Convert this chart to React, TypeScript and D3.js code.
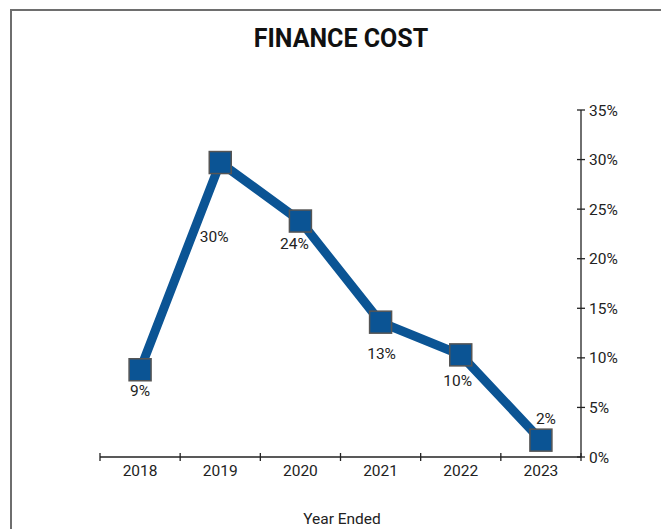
import React from "react";
import * as d3 from "d3";

const years = ["2018", "2019", "2020", "2021", "2022", "2023"];
const values = [8.8, 29.7, 23.8, 13.6, 10.3, 1.7];
const valueLabels = ["9%", "30%", "24%", "13%", "10%", "2%"];
const labelDx = [0, -6, -6, 1, -3, 5];
const labelDy = [26, 79, 28, 37, 31, -16];
const yTicks = [0, 5, 10, 15, 20, 25, 30, 35];

const W = 661;
const H = 529;
const TITLE_FONT = "Roboto, 'DejaVu Sans', sans-serif";
const FONT = "'Liberation Sans Narrow', Roboto, sans-serif";
const BLUE = "#0b5494";
const FS = 15.5;

export default function App() {
  const x = d3.scaleBand<string>().domain(years).range([100, 581]).padding(0);
  const y = d3.scaleLinear().domain([0, 35]).range([457, 110]);
  const line = d3
    .line<number>()
    .x((_, i) => (x(years[i]) as number) + x.bandwidth() / 2)
    .y((d) => y(d));
  const ticksX = [...years.map((yr) => x(yr) as number), 581];
  return (
    <svg
      width={W}
      height={H}
      style={{ position: "absolute", left: 0, top: 0, background: "#fff" }}
    >
      <rect x={11} y={10} width={W} height={H} fill="#fff" stroke="#6e6e6e" strokeWidth={2} />
      <text
        x={341}
        y={47}
        textAnchor="middle"
        fontFamily={TITLE_FONT}
        fontWeight="bold"
        fontSize={25}
        fill="#111"
      >
        FINANCE COST
      </text>
      {/* x axis */}
      <line x1={100} x2={581} y1={457} y2={457} stroke="#222" strokeWidth={1.3} />
      {ticksX.map((t, i) => (
        <line key={i} x1={t} x2={t} y1={453} y2={461} stroke="#222" strokeWidth={1.3} />
      ))}
      {years.map((yr) => (
        <text
          key={yr}
          x={(x(yr) as number) + x.bandwidth() / 2}
          y={476}
          textAnchor="middle"
          fontFamily={FONT}
          fontSize={FS}
          fill="#222"
        >
          {yr}
        </text>
      ))}
      <text x={342} y={524} textAnchor="middle" fontFamily={FONT} fontSize={FS} fill="#222">
        Year Ended
      </text>
      {/* y axis */}
      <line x1={581} x2={581} y1={y(35)} y2={y(0)} stroke="#222" strokeWidth={1.3} />
      {yTicks.map((t) => (
        <g key={t}>
          <line x1={577} x2={585} y1={y(t)} y2={y(t)} stroke="#222" strokeWidth={1.3} />
          <text x={589} y={y(t) + 5.5} fontFamily={FONT} fontSize={FS} fill="#222">
            {t}%
          </text>
        </g>
      ))}
      {/* series */}
      <path d={line(values) || ""} fill="none" stroke={BLUE} strokeWidth={9} strokeLinejoin="miter" />
      {values.map((v, i) => {
        const cx = (x(years[i]) as number) + x.bandwidth() / 2;
        const cy = y(v);
        return (
          <g key={i}>
            <rect x={cx - 11} y={cy - 11} width={22} height={22} fill={BLUE} stroke="#555" strokeWidth={1.5} />
            <text
              x={cx + labelDx[i]}
              y={cy + labelDy[i]}
              textAnchor="middle"
              fontFamily={FONT}
              fontSize={FS}
              fill="#222"
            >
              {valueLabels[i]}
            </text>
          </g>
        );
      })}
    </svg>
  );
}
